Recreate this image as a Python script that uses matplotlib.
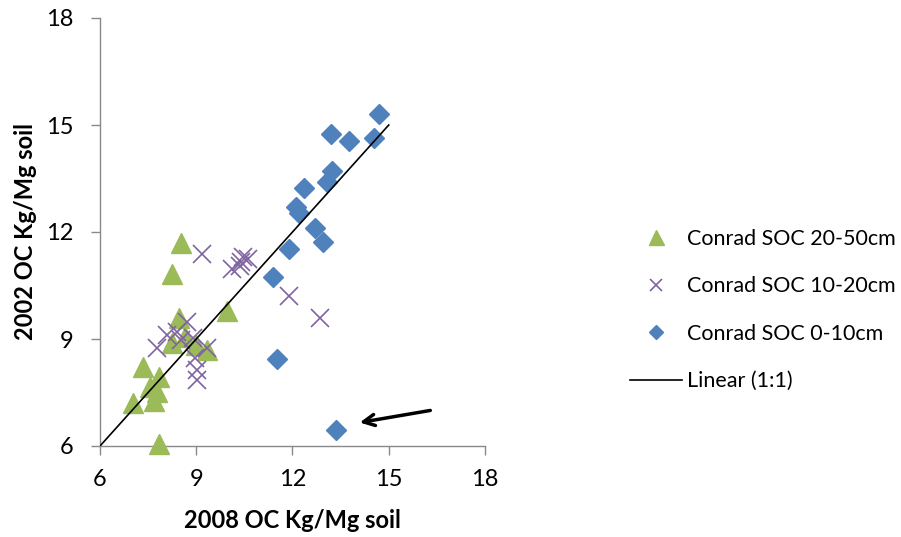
import matplotlib
matplotlib.use("Agg")
import matplotlib.pyplot as plt
from matplotlib.lines import Line2D

plt.rcParams['font.family'] = ['Lato', 'DejaVu Sans']

# Conrad SOC 20-50cm (green triangles)
soc20_x = [8.51, 8.25, 8.46, 9.95, 8.23, 8.65, 9.00, 9.33, 7.35, 7.83, 7.55, 7.77, 7.68, 7.03, 7.84]
soc20_y = [11.68, 10.82, 9.58, 9.78, 8.90, 9.05, 8.83, 8.69, 8.22, 7.94, 7.66, 7.52, 7.27, 7.20, 6.05]

# Conrad SOC 10-20cm (purple crosses)
soc10_x = [9.17, 10.10, 10.35, 10.45, 10.60, 10.40, 11.90, 12.86, 8.70, 8.39, 8.08, 7.77, 8.54, 8.91, 9.33, 8.96, 9.01, 9.01]
soc10_y = [11.38, 10.95, 11.05, 11.30, 11.25, 11.15, 10.21, 9.58, 9.49, 9.20, 9.11, 8.74, 8.97, 9.02, 8.74, 8.46, 8.13, 7.85]

# Conrad SOC 0-10cm (blue diamonds)
soc0_x = [14.71, 13.20, 13.77, 14.54, 13.24, 13.07, 12.37, 12.11, 12.21, 12.70, 12.94, 11.90, 11.40, 11.51, 13.35]
soc0_y = [15.31, 14.74, 14.55, 14.64, 13.71, 13.41, 13.24, 12.71, 12.54, 12.10, 11.73, 11.51, 10.73, 8.43, 6.45]

# 1:1 line endpoints
line_x = [6, 15]
line_y = [6, 15]

# arrow pointing at outlier
arrow_tip = (14.01, 6.645)
arrow_tail = (16.38, 7.01)

ticks = [6, 9, 12, 15, 18]
labels = ["Conrad SOC 20-50cm", "Conrad SOC 10-20cm", "Conrad SOC 0-10cm", "Linear (1:1)"]

green = '#9BBB59'
purple = '#8064A2'
blue = '#4F81BD'

fig = plt.figure(figsize=(9.01, 5.37), dpi=100)
ax = fig.add_axes([100/901, 1-446/537, 385/901, 428/537])

ax.plot(soc20_x, soc20_y, linestyle='none', marker='^', ms=14, color=green, mec=green, zorder=3, clip_on=False)
ax.plot(soc10_x, soc10_y, linestyle='none', marker='x', ms=13, mew=1.2, color=purple, zorder=4)
ax.plot(soc0_x, soc0_y, linestyle='none', marker='D', ms=9.7, color=blue, mec=blue, zorder=5)
ax.plot(line_x, line_y, color='black', lw=1.2, zorder=6)

ax.annotate('', xy=arrow_tip, xytext=arrow_tail,
            arrowprops=dict(arrowstyle='->,head_length=0.8,head_width=0.4', lw=2.5, color='black'),
            zorder=7)

ax.set_xlim(6, 18)
ax.set_ylim(6, 18)
ax.set_xticks(ticks)
ax.set_yticks(ticks)
ax.set_xticklabels([str(t) for t in ticks])
ax.set_yticklabels([str(t) for t in ticks])
for s in ['top', 'right']:
    ax.spines[s].set_visible(False)
for s in ['left', 'bottom']:
    ax.spines[s].set_color('#898989')
    ax.spines[s].set_linewidth(1.0)
ax.tick_params(axis='both', direction='out', length=6.5, width=1.0, color='#898989',
               labelsize=17, labelcolor='black')
ax.tick_params(axis='x', pad=10.2)
ax.tick_params(axis='y', pad=12.5)

ax.set_xlabel('2008 OC Kg/Mg soil', fontsize=17, fontweight='bold')
ax.set_ylabel('2002 OC Kg/Mg soil', fontsize=17, fontweight='bold')
ax.xaxis.set_label_coords(0.5, -0.147)
ax.yaxis.set_label_coords(-0.1636, 0.5)

handles = [
    Line2D([], [], linestyle='none', marker='^', ms=10.8, color=green),
    Line2D([], [], linestyle='none', marker='x', ms=8.6, mew=1.2, color=purple),
    Line2D([], [], linestyle='none', marker='D', ms=7.6, color=blue),
    Line2D([], [], color='black', lw=1.2),
]
fig.legend(handles, labels, loc='center left', bbox_to_anchor=(610.6/901, 1-310/537),
           frameon=False, fontsize=15.5, labelspacing=1.28, handlelength=2.42, handletextpad=0.23)

fig.savefig('out.png', dpi=100)
